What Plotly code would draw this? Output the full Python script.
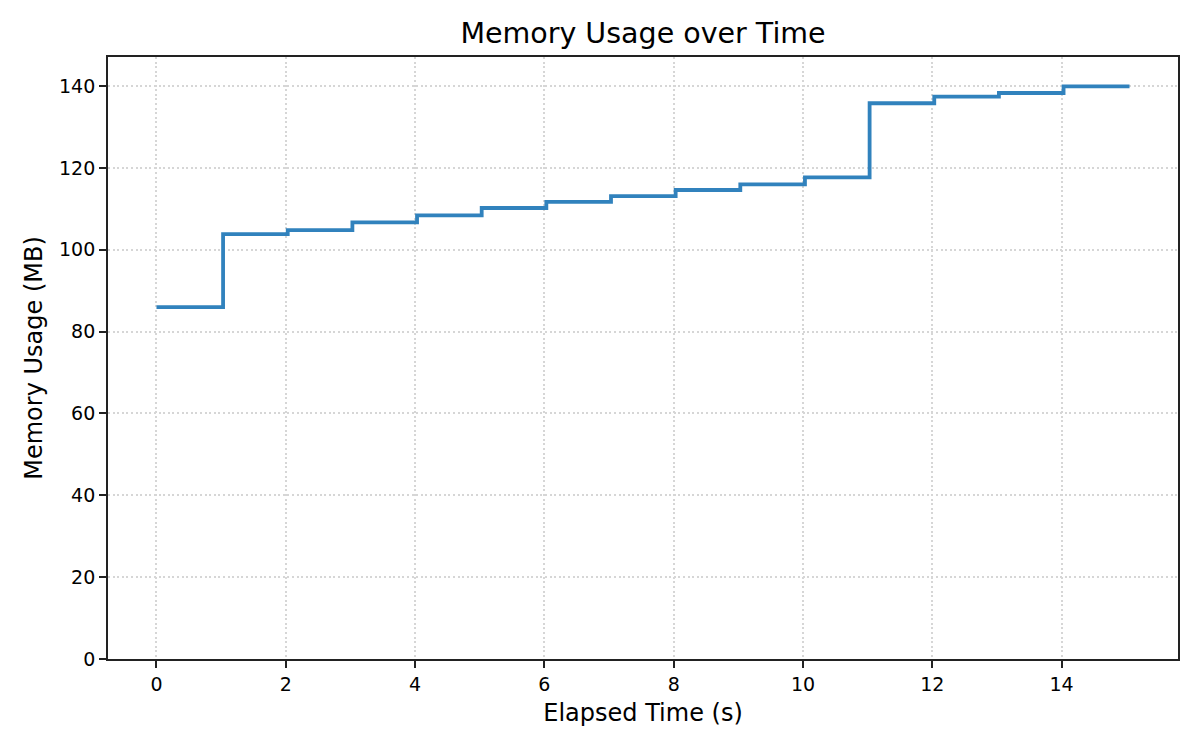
import plotly.graph_objects as go

elapsed_s = [0.0, 1.03, 2.03, 3.03, 4.03, 5.03, 6.03, 7.03, 8.03, 9.03, 10.03, 11.03, 12.03, 13.03, 14.03, 15.05]
memory_mb = [86.0, 103.8, 104.8, 106.7, 108.4, 110.2, 111.7, 113.1, 114.6, 116.0, 117.7, 135.8, 137.4, 138.3, 139.9, 139.9]
x_ticks = [0, 2, 4, 6, 8, 10, 12, 14]
y_ticks = [0, 20, 40, 60, 80, 100, 120, 140]

FONT = "DejaVu Sans"

fig = go.Figure()
fig.add_trace(go.Scatter(
    x=elapsed_s, y=memory_mb, mode="lines", line_shape="hv",
    line=dict(color="#3182bd", width=3.8), showlegend=False,
))

axis_common = dict(
    showline=True, linecolor="#222", linewidth=1.8, mirror=True,
    ticks="outside", ticklen=7, tickwidth=1.6, tickcolor="#222",
    showgrid=True, gridcolor="#d6d6d6", griddash="2px,2.6px", gridwidth=1.6,
    zeroline=False, tickfont=dict(family=FONT, size=19, color="#000"),
)

fig.update_layout(
    width=1192, height=742,
    paper_bgcolor="white", plot_bgcolor="white",
    margin=dict(l=100, r=22, t=49, b=91),
    title=dict(text="Memory Usage over Time", xref="paper", x=0.5, xanchor="center", y=0.966, yanchor="middle",
               font=dict(family=FONT, size=28.5, color="#000")),
    xaxis=dict(axis_common, range=[-0.75, 15.8], tickvals=x_ticks,
               title=dict(text="Elapsed Time (s)", font=dict(family=FONT, size=24, color="#000"), standoff=10)),
    yaxis=dict(axis_common, range=[0, 147.1], tickvals=y_ticks,
               title=dict(text="Memory Usage (MB)", font=dict(family=FONT, size=24, color="#000"), standoff=10)),
)

fig.write_html("out.html")
